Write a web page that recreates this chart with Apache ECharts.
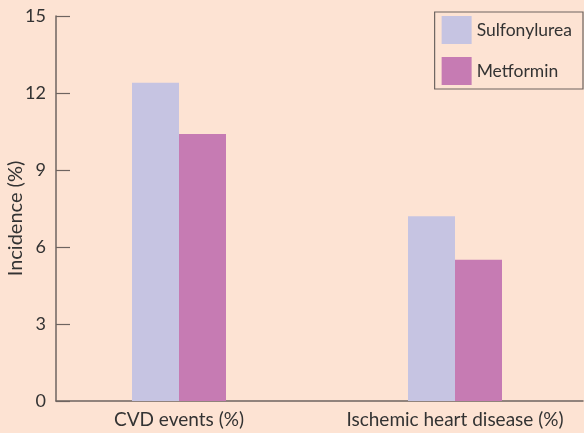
<!DOCTYPE html>
<html lang="en">
<head>
    <meta charset="UTF-8">
    <title>Incidence</title>
    <script src="https://cdn.jsdelivr.net/npm/echarts@6/dist/echarts.min.js"></script>
    <style>
        html, body { margin: 0; padding: 0; background: #fde3d3; }
        #chart { width: 584px; height: 433px; }
    </style>
</head>
<body>
<div id="chart"></div>
<script>
    var categories = ['CVD events (%)', 'Ischemic heart disease (%)'];
    var sulfonylurea = [12.4, 7.2];
    var metformin = [10.4, 5.5];
    var yTicks = [0, 3, 6, 9, 12, 15];

    var axisColor = '#6e6460';
    var textColor = '#333';
    var font = 'Lato';

    var myChart = echarts.init(document.getElementById('chart'));

    // grid 0 draws the axes, grid 1 places the bars and the category labels
    var option = {
        backgroundColor: '#fde3d3',
        animation: false,
        textStyle: { fontFamily: font, color: textColor },
        grid: [
            { left: 56, right: 1, top: 16, bottom: 32, containLabel: false, outerBoundsMode: 'none' },
            { left: 41, width: 552, top: 16, bottom: 32, containLabel: false, outerBoundsMode: 'none' }
        ],
        legend: {
            orient: 'vertical',
            right: 1,
            top: 12,
            padding: [4, 11, 4, 7],
            itemWidth: 30,
            itemHeight: 28,
            itemGap: 13,
            borderColor: axisColor,
            borderWidth: 1.2,
            icon: 'rect',
            textStyle: { fontFamily: font, fontSize: 17.5, color: textColor },
            data: ['Sulfonylurea', 'Metformin']
        },
        xAxis: [
            {
                type: 'category',
                gridIndex: 0,
                data: categories,
                axisLine: { lineStyle: { color: axisColor, width: 1.5 } },
                axisTick: { inside: true, length: 8, lineStyle: { color: axisColor, width: 1.5 } },
                axisLabel: { show: false }
            },
            {
                type: 'category',
                gridIndex: 1,
                data: categories,
                axisLine: { show: false },
                axisTick: { show: false },
                axisLabel: { interval: 0, hideOverlap: false, fontFamily: font, fontSize: 19, color: textColor, margin: 9 }
            }
        ],
        yAxis: [
            {
                type: 'value',
                gridIndex: 0,
                min: yTicks[0],
                max: yTicks[yTicks.length - 1],
                interval: 3,
                name: 'Incidence (%)',
                nameLocation: 'middle',
                nameRotate: 90,
                nameGap: 30,
                nameMoveOverlap: false,
                nameTextStyle: { fontFamily: font, fontSize: 20, color: textColor, padding: [0, 20, 0, 0] },
                splitLine: { show: false },
                axisLine: { show: true, lineStyle: { color: axisColor, width: 1.5 } },
                axisTick: { show: true, inside: true, length: 14, lineStyle: { color: axisColor, width: 1.2 } },
                axisLabel: { fontFamily: font, fontSize: 18, color: textColor, margin: 10 }
            },
            {
                type: 'value',
                gridIndex: 1,
                min: yTicks[0],
                max: yTicks[yTicks.length - 1],
                interval: 3,
                show: false
            }
        ],
        series: [
            {
                name: 'Sulfonylurea',
                type: 'bar',
                xAxisIndex: 1,
                yAxisIndex: 1,
                data: sulfonylurea,
                barWidth: 47,
                barGap: '0%',
                itemStyle: { color: '#c6c4e2' }
            },
            {
                name: 'Metformin',
                type: 'bar',
                xAxisIndex: 1,
                yAxisIndex: 1,
                data: metformin,
                barWidth: 47,
                barGap: '0%',
                itemStyle: { color: '#c67bb3' }
            }
        ]
    };

    myChart.setOption(option);
</script>
</body>
</html>
